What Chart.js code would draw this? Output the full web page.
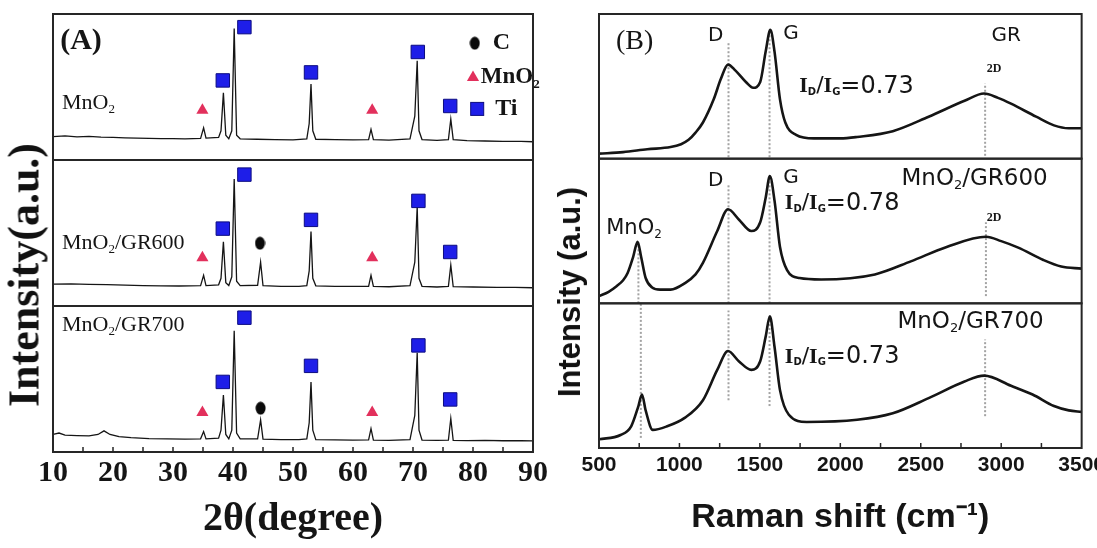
<!DOCTYPE html>
<html>
<head>
<meta charset="utf-8">
<script src="https://cdn.jsdelivr.net/npm/chart.js@4.4.1/dist/chart.umd.min.js"></script>
<style>
  html, body { margin: 0; padding: 0; background: #fff; overflow: hidden; }
  #page { position: relative; width: 1097px; height: 548px; overflow: hidden; }
  .panel { position: absolute; top: 0; height: 548px; }
  #panelA { left: 0; width: 560px; }
  #panelB { left: 548px; width: 562px; }
  .ytitle { position: absolute; transform: translate(-50%, -50%) rotate(-90deg); white-space: nowrap; color: #111; }
</style>
</head>
<body>
<div id="page">
  <div class="panel" id="panelA"><canvas id="xrdChart"></canvas></div>
  <div class="panel" id="panelB"><canvas id="ramanChart"></canvas></div>
  <div class="ytitle" style="left:24px;top:275px;font:bold 44px 'Liberation Serif',serif;">Intensity(a.u.)</div>
  <div class="ytitle" style="left:570px;top:292px;font:bold 31px 'Liberation Sans',Arial,sans-serif;">Intensity (a.u.)</div>
</div>
<script>
// ---- (A) XRD patterns, intensity in each panel scaled 0..1 ----
const xrdAngle1 = [10, 12, 14, 16, 18, 20, 22, 24, 26, 28, 30, 32, 34.6, 35.1, 35.5, 37.6, 38.0, 38.4, 38.8, 39.3, 39.8, 40.2, 40.6, 41.2, 44, 47, 50, 52.3, 52.7, 53.0, 53.3, 53.8, 57, 60, 62.6, 63.0, 63.4, 66, 69.5, 70.3, 70.7, 71.0, 71.5, 74, 75.9, 76.3, 76.7, 79, 82, 85, 88, 90];
const xrdInt1 = [0.16, 0.165, 0.158, 0.162, 0.157, 0.155, 0.152, 0.15, 0.148, 0.147, 0.146, 0.145, 0.148, 0.22, 0.15, 0.155, 0.2, 0.46, 0.17, 0.145, 0.2, 0.90, 0.17, 0.145, 0.142, 0.14, 0.138, 0.145, 0.25, 0.52, 0.2, 0.142, 0.14, 0.138, 0.14, 0.21, 0.14, 0.136, 0.145, 0.3, 0.68, 0.2, 0.14, 0.135, 0.14, 0.28, 0.14, 0.133, 0.13, 0.128, 0.127, 0.125];

const xrdAngle2 = [10, 13, 16, 19, 22, 25, 28, 31, 34.6, 35.1, 35.5, 37.6, 38.0, 38.4, 38.8, 39.3, 39.8, 40.2, 40.6, 41.2, 44.1, 44.6, 45.0, 48, 51, 52.3, 52.7, 53.0, 53.3, 53.8, 57, 60, 62.6, 63.0, 63.4, 66, 69.5, 70.3, 70.7, 71.0, 71.5, 74, 75.9, 76.3, 76.7, 80, 84, 87, 90];
const xrdInt2 = [0.15, 0.152, 0.148, 0.146, 0.143, 0.14, 0.138, 0.137, 0.14, 0.21, 0.14, 0.145, 0.19, 0.44, 0.16, 0.14, 0.2, 0.87, 0.17, 0.14, 0.142, 0.30, 0.14, 0.135, 0.135, 0.14, 0.24, 0.51, 0.19, 0.138, 0.135, 0.135, 0.135, 0.21, 0.135, 0.132, 0.14, 0.3, 0.68, 0.19, 0.135, 0.13, 0.135, 0.28, 0.133, 0.13, 0.128, 0.127, 0.125];

const xrdAngle3 = [10, 11, 12, 14, 16, 17.5, 18.5, 19.5, 21, 23, 26, 29, 32, 34.6, 35.1, 35.5, 37.6, 38.0, 38.4, 38.8, 39.3, 39.8, 40.2, 40.6, 41.2, 44.1, 44.6, 45.0, 48, 51, 52.3, 52.7, 53.0, 53.3, 53.8, 57, 60, 62.6, 63.0, 63.4, 66, 69.5, 70.3, 70.7, 71.0, 71.5, 74, 75.9, 76.3, 76.7, 79, 82, 85, 88, 90];
const xrdInt3 = [0.12, 0.13, 0.115, 0.112, 0.11, 0.12, 0.145, 0.12, 0.105, 0.098, 0.092, 0.09, 0.088, 0.09, 0.14, 0.09, 0.095, 0.15, 0.39, 0.12, 0.09, 0.15, 0.83, 0.13, 0.09, 0.09, 0.22, 0.088, 0.085, 0.085, 0.09, 0.2, 0.48, 0.15, 0.085, 0.083, 0.082, 0.083, 0.16, 0.082, 0.08, 0.085, 0.25, 0.68, 0.15, 0.082, 0.08, 0.082, 0.23, 0.08, 0.078, 0.08, 0.077, 0.077, 0.076];

// phase markers above the peaks
const tiAngle1 = [38.3, 41.9, 53.0, 70.8, 76.2];
const tiLevel1 = [0.545, 0.91, 0.60, 0.74, 0.37];
const mnAngle1 = [34.9, 63.2];
const mnLevel1 = [0.34, 0.34];
const tiAngle2 = [38.3, 41.9, 53.0, 70.9, 76.2];
const tiLevel2 = [0.53, 0.90, 0.59, 0.72, 0.37];
const mnAngle2 = [34.9, 63.2];
const mnLevel2 = [0.33, 0.33];
const cAngle2 = [44.5];
const cLevel2 = [0.43];
const tiAngle3 = [38.3, 41.9, 53.0, 70.9, 76.2];
const tiLevel3 = [0.48, 0.92, 0.59, 0.73, 0.36];
const mnAngle3 = [34.9, 63.2];
const mnLevel3 = [0.27, 0.27];
const cAngle3 = [44.6];
const cLevel3 = [0.30];

const angleTicks = [10, 20, 30, 40, 50, 60, 70, 80, 90];

// ---- (B) Raman spectra ----
const ramanShift1 = [500, 650, 800, 945, 1010, 1057, 1100, 1146, 1213, 1257, 1302, 1347, 1413, 1458, 1502, 1536, 1565, 1591, 1625, 1658, 1725, 1836, 2000, 2104, 2326, 2549, 2772, 2894, 2980, 3061, 3217, 3328, 3420, 3500];
const ramanInt1 = [0.035, 0.045, 0.065, 0.08, 0.1, 0.13, 0.18, 0.25, 0.41, 0.55, 0.65, 0.61, 0.53, 0.49, 0.53, 0.74, 0.89, 0.74, 0.41, 0.25, 0.165, 0.14, 0.14, 0.15, 0.19, 0.29, 0.40, 0.45, 0.42, 0.38, 0.29, 0.23, 0.21, 0.21];

const ramanShift2 = [500, 560, 611, 650, 678, 712, 740, 762, 790, 830, 880, 945, 1035, 1100, 1146, 1235, 1302, 1369, 1447, 1502, 1536, 1562, 1591, 1625, 1669, 1747, 1881, 2215, 2438, 2661, 2906, 3000, 3106, 3262, 3373, 3500];
const ramanInt2 = [0.05, 0.08, 0.12, 0.16, 0.21, 0.32, 0.425, 0.32, 0.175, 0.11, 0.095, 0.095, 0.14, 0.2, 0.28, 0.50, 0.65, 0.58, 0.50, 0.56, 0.73, 0.88, 0.71, 0.39, 0.23, 0.175, 0.165, 0.20, 0.29, 0.39, 0.46, 0.43, 0.385, 0.30, 0.255, 0.24];

const ramanShift3 = [500, 634, 700, 745, 767, 790, 834, 923, 1035, 1146, 1235, 1302, 1369, 1447, 1502, 1536, 1562, 1591, 1625, 1680, 1791, 2104, 2326, 2549, 2772, 2894, 3061, 3195, 3328, 3420, 3500];
const ramanInt3 = [0.06, 0.09, 0.15, 0.29, 0.37, 0.26, 0.125, 0.15, 0.21, 0.33, 0.54, 0.67, 0.60, 0.54, 0.60, 0.77, 0.91, 0.70, 0.40, 0.23, 0.18, 0.195, 0.24, 0.345, 0.46, 0.50, 0.43, 0.37, 0.29, 0.26, 0.25];

// dotted band guides: position, lower and upper end
const guideShift1 = [1305, 1560, 2900];
const guideBase1 = [0.01, 0.01, 0.02];
const guideTop1 = [0.80, 0.89, 0.52];
const guideShift2 = [745, 1305, 1560, 2905];
const guideBase2 = [0, 0, 0, 0.05];
const guideTop2 = [0.42, 0.82, 0.88, 0.56];
const guideShift3 = [760, 1305, 1560, 2900];
const guideBase3 = [0.07, 0.33, 0.29, 0.22];
const guideTop3 = [1.0, 0.95, 0.91, 0.75];

const shiftTicks = [500, 1000, 1500, 2000, 2500, 3000, 3500];

// ---- styling helpers ----
const serif = "'Liberation Serif', 'Times New Roman', serif";
const sans = "'DejaVu Sans', Verdana, sans-serif";
const ink = '#151515';
const tiFill = '#1e1ee8', tiEdge = '#0c0c80', mnFill = '#e2305c';

// carbon marker is a slightly tall ellipse
const cDot = document.createElement('canvas');
cDot.width = 11; cDot.height = 14;
(function () {
    const c = cDot.getContext('2d');
    c.fillStyle = '#0a0a0a';
    c.beginPath();
    c.ellipse(5.5, 7, 5, 6.5, 0, 0, Math.PI * 2);
    c.fill();
})();

const pts = (xs, ys) => xs.map((x, i) => ({ x: x, y: ys[i] }));

function traceSet(xs, ys, axis, width, smooth) {
    return {
        type: 'line', data: pts(xs, ys), yAxisID: axis,
        borderColor: ink, borderWidth: width, pointRadius: 0,
        cubicInterpolationMode: smooth ? 'monotone' : 'default', tension: 0, order: 2
    };
}

function markSet(xs, ys, axis, kind) {
    const ds = { type: 'line', showLine: false, data: pts(xs, ys), yAxisID: axis, order: 1 };
    if (kind === 'ti') Object.assign(ds, { pointStyle: 'rect', pointRadius: 9.5, pointBackgroundColor: tiFill, pointBorderColor: tiEdge, pointBorderWidth: 1 });
    if (kind === 'mn') Object.assign(ds, { pointStyle: 'triangle', pointRadius: 7, pointBackgroundColor: mnFill, pointBorderColor: mnFill, pointBorderWidth: 0 });
    if (kind === 'c') Object.assign(ds, { pointStyle: cDot, pointRadius: 6 });
    return ds;
}

function guideSets(xs, bases, tops, axis) {
    return xs.map((x, i) => ({
        type: 'line', data: [{ x: x, y: bases[i] }, { x: x, y: tops[i] }], yAxisID: axis,
        borderColor: '#a3a3a3', borderWidth: 2, borderDash: [2, 2], pointRadius: 0, order: 3
    }));
}

function subAxis(stack, weight) {
    return {
        type: 'linear', position: 'left', stack: stack, stackWeight: 1, weight: weight, min: 0, max: 1,
        afterFit: s => { s.width = 0; },
        ticks: { display: false }, grid: { display: false, drawTicks: false }, border: { display: false }
    };
}

function writeRuns(ctx, runs, x, y, align) {
    ctx.save();
    ctx.textBaseline = 'middle';
    ctx.fillStyle = ink;
    let total = 0;
    runs.forEach(r => { ctx.font = r.f; total += ctx.measureText(r.t).width; });
    let cx = align === 'center' ? x - total / 2 : x;
    runs.forEach(r => {
        ctx.font = r.f;
        ctx.fillText(r.t, cx, y + (r.dy || 0));
        cx += ctx.measureText(r.t).width;
    });
    ctx.restore();
}

function drawKey(ctx, kind, x, y) {
    ctx.save();
    if (kind === 'c') ctx.drawImage(cDot, x - cDot.width / 2, y - cDot.height / 2);
    if (kind === 'mn') {
        ctx.fillStyle = mnFill;
        ctx.beginPath();
        ctx.moveTo(x, y - 7); ctx.lineTo(x + 6.1, y + 3.5); ctx.lineTo(x - 6.1, y + 3.5);
        ctx.closePath(); ctx.fill();
    }
    if (kind === 'ti') {
        ctx.fillStyle = tiFill; ctx.strokeStyle = tiEdge; ctx.lineWidth = 1;
        ctx.fillRect(x - 6.5, y - 6.5, 13, 13); ctx.strokeRect(x - 6.5, y - 6.5, 13, 13);
    }
    ctx.restore();
}

function notesPlugin(items, keys) {
    return {
        id: 'notes',
        afterDatasetsDraw(chart) {
            const ctx = chart.ctx, xs = chart.scales.x;
            items.forEach(n => writeRuns(ctx, n.runs, xs.getPixelForValue(n.x), chart.scales[n.axis].getPixelForValue(n.y), n.align));
            keys.forEach(k => drawKey(ctx, k.kind, xs.getPixelForValue(k.x), chart.scales[k.axis].getPixelForValue(k.y)));
        }
    };
}

function framePlugin(minorStep) {
    return {
        id: 'frames',
        afterDatasetsDraw(chart) {
            const { ctx, chartArea } = chart;
            const xs = chart.scales.x;
            ctx.save();
            ctx.strokeStyle = '#262626';
            ctx.lineWidth = 2;
            ['ya', 'yb', 'yc'].forEach(id => {
                const s = chart.scales[id];
                ctx.strokeRect(chartArea.left, s.top, chartArea.width, s.bottom - s.top);
            });
            ctx.lineWidth = 1.5;
            ctx.beginPath();
            for (let v = xs.min + minorStep; v < xs.max; v += minorStep) {
                const px = xs.getPixelForValue(v);
                ctx.moveTo(px, chartArea.bottom);
                ctx.lineTo(px, chartArea.bottom - 5);
            }
            ctx.stroke();
            ctx.restore();
        }
    };
}

const mnoRuns = (size, rest, family, weight) => [
    { t: 'MnO', f: `${weight || ''} ${size}px ${family}` },
    { t: '2', f: `${weight || ''} ${Math.round(size * 0.58)}px ${family}`, dy: size * 0.3 },
    { t: rest, f: `${weight || ''} ${size}px ${family}` }
];
const ratioRuns = (value) => [
    { t: 'I', f: `bold 22px ${serif}` },
    { t: 'D', f: `bold 10px ${sans}`, dy: 6 },
    { t: '/', f: `22px ${sans}` },
    { t: 'I', f: `bold 22px ${serif}` },
    { t: 'G', f: `bold 10px ${sans}`, dy: 6 },
    { t: '=' + value, f: `24px ${sans}` }
];

// ---- (A) notes ----
const notesA = [
    { axis: 'ya', x: 11.2, y: 0.815, runs: [{ t: '(A)', f: `bold 30px ${serif}` }] },
    { axis: 'ya', x: 11.5, y: 0.39, runs: mnoRuns(22, '', serif) },
    { axis: 'yb', x: 11.5, y: 0.43, runs: mnoRuns(22, '/GR600', serif) },
    { axis: 'yc', x: 11.5, y: 0.87, runs: mnoRuns(22, '/GR700', serif) },
    { axis: 'ya', x: 83.3, y: 0.80, runs: [{ t: 'C', f: `bold 24px ${serif}` }] },
    { axis: 'ya', x: 81.3, y: 0.565, runs: mnoRuns(23, '', serif, 'bold') },
    { axis: 'ya', x: 83.7, y: 0.35, runs: [{ t: 'Ti', f: `bold 24px ${serif}` }] }
];
const keysA = [
    { axis: 'ya', x: 80.3, y: 0.80, kind: 'c' },
    { axis: 'ya', x: 80.0, y: 0.565, kind: 'mn' },
    { axis: 'ya', x: 80.7, y: 0.35, kind: 'ti' }
];

// ---- (B) notes ----
const notesB = [
    { axis: 'ya', x: 605, y: 0.81, runs: [{ t: '(B)', f: `28px ${serif}` }] },
    { axis: 'ya', x: 1225, y: 0.85, align: 'center', runs: [{ t: 'D', f: `20px ${sans}` }] },
    { axis: 'ya', x: 1645, y: 0.86, runs: [{ t: 'G', f: `20px ${sans}` }] },
    { axis: 'ya', x: 2940, y: 0.85, runs: [{ t: 'GR', f: `20px ${sans}` }] },
    { axis: 'ya', x: 2910, y: 0.62, runs: [{ t: '2D', f: `bold 12px ${serif}` }] },
    { axis: 'ya', x: 1745, y: 0.50, runs: ratioRuns('0.73') },
    { axis: 'yb', x: 1225, y: 0.85, align: 'center', runs: [{ t: 'D', f: `20px ${sans}` }] },
    { axis: 'yb', x: 1645, y: 0.87, runs: [{ t: 'G', f: `20px ${sans}` }] },
    { axis: 'yb', x: 2380, y: 0.86, runs: mnoRuns(23, '/GR600', sans) },
    { axis: 'yb', x: 1655, y: 0.69, runs: ratioRuns('0.78') },
    { axis: 'yb', x: 2910, y: 0.59, runs: [{ t: '2D', f: `bold 12px ${serif}` }] },
    { axis: 'yb', x: 545, y: 0.52, runs: mnoRuns(21, '', sans) },
    { axis: 'yc', x: 2355, y: 0.87, runs: mnoRuns(23, '/GR700', sans) },
    { axis: 'yc', x: 1655, y: 0.63, runs: ratioRuns('0.73') }
];

const baseOptions = {
    responsive: true,
    maintainAspectRatio: false,
    animation: false,
    devicePixelRatio: 1,
    events: [],
    plugins: { legend: { display: false }, tooltip: { enabled: false } }
};

// XRD CHART
new Chart(document.getElementById('xrdChart'), {
    type: 'line',
    data: {
        datasets: [
            traceSet(xrdAngle1, xrdInt1, 'ya', 1.3, false),
            traceSet(xrdAngle2, xrdInt2, 'yb', 1.3, false),
            traceSet(xrdAngle3, xrdInt3, 'yc', 1.3, false),
            markSet(tiAngle1, tiLevel1, 'ya', 'ti'),
            markSet(mnAngle1, mnLevel1, 'ya', 'mn'),
            markSet(tiAngle2, tiLevel2, 'yb', 'ti'),
            markSet(mnAngle2, mnLevel2, 'yb', 'mn'),
            markSet(cAngle2, cLevel2, 'yb', 'c'),
            markSet(tiAngle3, tiLevel3, 'yc', 'ti'),
            markSet(mnAngle3, mnLevel3, 'yc', 'mn'),
            markSet(cAngle3, cLevel3, 'yc', 'c')
        ]
    },
    options: Object.assign({}, baseOptions, {
        layout: { padding: { left: 53, right: 27, top: 14, bottom: 0 } },
        scales: {
            x: {
                type: 'linear', position: 'bottom', min: 10, max: 90,
                afterFit: s => { s.height = 96; },
                afterBuildTicks: s => { s.ticks = angleTicks.map(v => ({ value: v })); },
                grid: { display: false, drawTicks: false }, border: { display: false },
                ticks: { autoSkip: false, maxRotation: 0, padding: 3, color: ink, callback: v => String(v),
                    font: { family: serif, size: 30, weight: 'bold' } },
                title: { display: true, text: '2θ(degree)', color: ink, padding: { top: 0, bottom: 4 },
                    font: { family: serif, size: 40, weight: 'bold' } }
            },
            ya: subAxis('xrd', 3),
            yb: subAxis('xrd', 2),
            yc: subAxis('xrd', 1)
        }
    }),
    plugins: [framePlugin(5), notesPlugin(notesA, keysA)]
});

// RAMAN CHART
new Chart(document.getElementById('ramanChart'), {
    type: 'line',
    data: {
        datasets: [
            ...guideSets(guideShift1, guideBase1, guideTop1, 'ya'),
            ...guideSets(guideShift2, guideBase2, guideTop2, 'yb'),
            ...guideSets(guideShift3, guideBase3, guideTop3, 'yc'),
            traceSet(ramanShift1, ramanInt1, 'ya', 2.6, true),
            traceSet(ramanShift2, ramanInt2, 'yb', 2.6, true),
            traceSet(ramanShift3, ramanInt3, 'yc', 2.6, true)
        ]
    },
    options: Object.assign({}, baseOptions, {
        layout: { padding: { left: 51, right: 28, top: 14, bottom: 0 } },
        scales: {
            x: {
                type: 'linear', position: 'bottom', min: 500, max: 3500,
                afterFit: s => { s.height = 100; },
                afterBuildTicks: s => { s.ticks = shiftTicks.map(v => ({ value: v })); },
                grid: { display: false, drawTicks: false }, border: { display: false },
                ticks: { autoSkip: false, maxRotation: 0, padding: 5, color: ink, callback: v => String(v),
                    font: { family: "'Liberation Sans Narrow', 'Liberation Sans', sans-serif", size: 21, weight: 'bold' } },
                title: { display: true, text: 'Raman shift (cm⁻¹)', color: ink, padding: { top: 0, bottom: 10 },
                    font: { family: "'Liberation Sans', Arial, sans-serif", size: 34, weight: 'bold' } }
            },
            ya: subAxis('raman', 3),
            yb: subAxis('raman', 2),
            yc: subAxis('raman', 1)
        }
    }),
    plugins: [framePlugin(250), notesPlugin(notesB, [])]
});
</script>
</body>
</html>
